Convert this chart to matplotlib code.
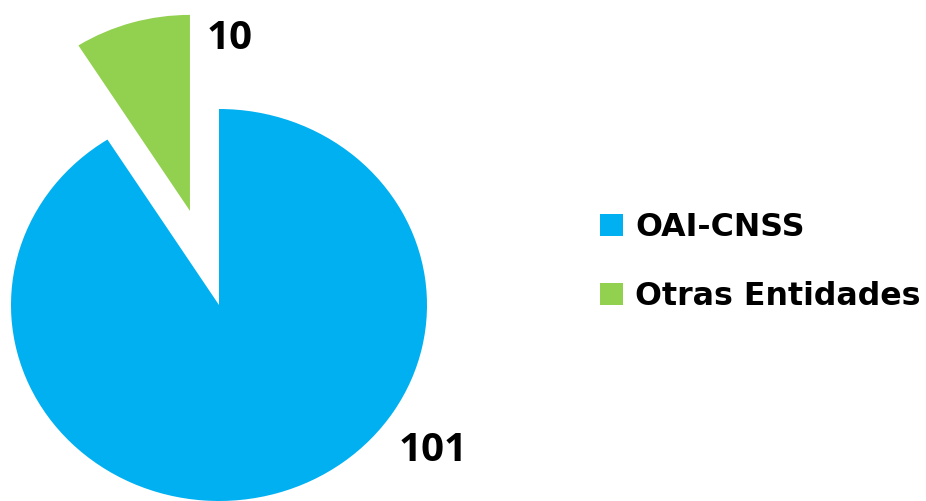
import matplotlib
matplotlib.use("Agg")
import matplotlib.pyplot as plt

categories = ["OAI-CNSS", "Otras Entidades"]
values = [101, 10]
colors = ["#00B0F0", "#92D050"]
explode = [0, 0.5]

plt.rcParams['font.family'] = ['DejaVu Sans']

fig = plt.figure(figsize=(9.26, 5.01), dpi=100)
ax = fig.add_axes([0, 0, 1, 1])
wedges, _ = ax.pie(values, colors=colors, explode=explode, startangle=90,
                   counterclock=False, radius=1.0,
                   wedgeprops=dict(linewidth=0))
ax.set_aspect('auto')
ax.set_xlim((0 - 219) / 208, (926 - 219) / 208)
ax.set_ylim(-(501 - 305) / 196, 305 / 196)
ax.axis('off')

label_pos = [(1.03, -0.74), (0.053, 1.36)]
for v, (x, y) in zip(values, label_pos):
    ax.text(x, y, str(v), ha='center', va='center', fontsize=29,
            fontweight='bold', color='black', family=['Open Sans', 'DejaVu Sans'])

leg = ax.legend(wedges, categories, loc='center left',
                bbox_to_anchor=(600 / 926, 1 - 262 / 501),
                frameon=False, handlelength=0.72,
                handleheight=0.72, handletextpad=0.4, labelspacing=1.2,
                borderpad=0, borderaxespad=0,
                prop=dict(weight='bold', size=22.8, family='DejaVu Sans'))

fig.savefig("out.png", dpi=100)
